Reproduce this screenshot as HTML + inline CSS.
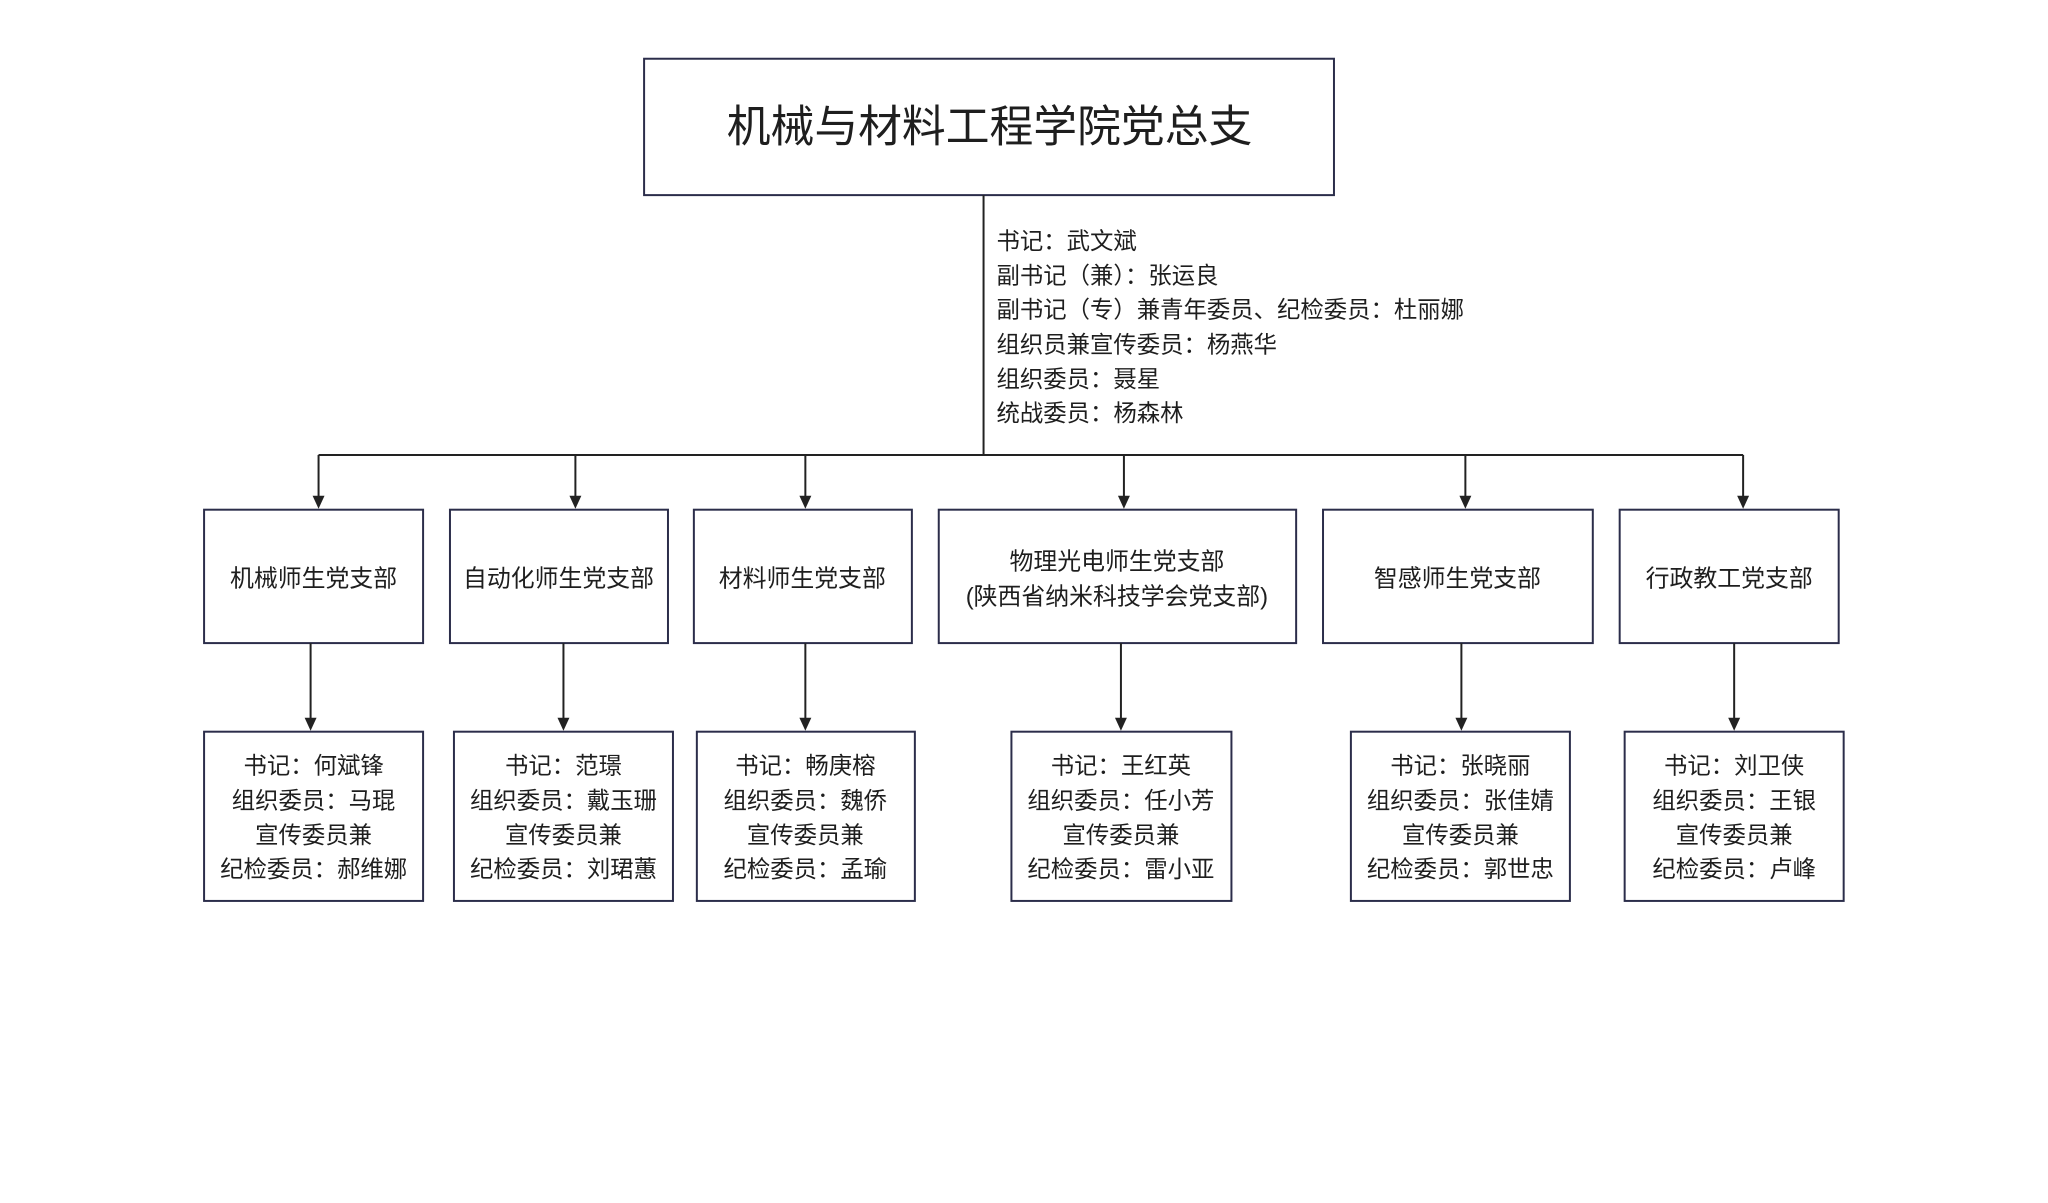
<!DOCTYPE html>
<html><head><meta charset="utf-8"><style>
html,body{margin:0;padding:0;background:#fff;}
svg{display:block;}
text{font-family:"Liberation Sans","Noto Sans CJK SC",sans-serif;fill:#1e1e1e;}
</style></head><body>
<svg width="2048" height="1203" viewBox="0 0 2048 1203" xmlns="http://www.w3.org/2000/svg">
<g transform="scale(0.9955)">
<g fill="none" stroke="#2b2d4a" stroke-width="2">
<rect x="647" y="59" width="693" height="137"/>
<rect x="205" y="512" width="220" height="134"/>
<rect x="452" y="512" width="219" height="134"/>
<rect x="697" y="512" width="219" height="134"/>
<rect x="943" y="512" width="359" height="134"/>
<rect x="1329" y="512" width="271" height="134"/>
<rect x="1627" y="512" width="220" height="134"/>
<rect x="205" y="735" width="220" height="170"/>
<rect x="456" y="735" width="220" height="170"/>
<rect x="700" y="735" width="219" height="170"/>
<rect x="1016" y="735" width="221" height="170"/>
<rect x="1357" y="735" width="220" height="170"/>
<rect x="1632" y="735" width="220" height="170"/>
</g>
<g stroke="#222" stroke-width="2" fill="none">
<line x1="988" y1="196" x2="988" y2="457"/>
<line x1="320" y1="457" x2="1751" y2="457"/>
<line x1="320" y1="457" x2="320" y2="500"/>
<line x1="578" y1="457" x2="578" y2="500"/>
<line x1="809" y1="457" x2="809" y2="500"/>
<line x1="1129" y1="457" x2="1129" y2="500"/>
<line x1="1472" y1="457" x2="1472" y2="500"/>
<line x1="1751" y1="457" x2="1751" y2="500"/>
<line x1="312" y1="646" x2="312" y2="723"/>
<line x1="566" y1="646" x2="566" y2="723"/>
<line x1="809" y1="646" x2="809" y2="723"/>
<line x1="1126" y1="646" x2="1126" y2="723"/>
<line x1="1468" y1="646" x2="1468" y2="723"/>
<line x1="1742" y1="646" x2="1742" y2="723"/>
</g>
<g fill="#222">
<path d="M314,498 L326,498 L320,511 Z"/>
<path d="M572,498 L584,498 L578,511 Z"/>
<path d="M803,498 L815,498 L809,511 Z"/>
<path d="M1123,498 L1135,498 L1129,511 Z"/>
<path d="M1466,498 L1478,498 L1472,511 Z"/>
<path d="M1745,498 L1757,498 L1751,511 Z"/>
<path d="M306,721 L318,721 L312,734 Z"/>
<path d="M560,721 L572,721 L566,734 Z"/>
<path d="M803,721 L815,721 L809,734 Z"/>
<path d="M1120,721 L1132,721 L1126,734 Z"/>
<path d="M1462,721 L1474,721 L1468,734 Z"/>
<path d="M1736,721 L1748,721 L1742,734 Z"/>
</g>
<text x="994" y="142" font-size="44" text-anchor="middle">机械与材料工程学院党总支</text>
<g font-size="23.5">
<text x="1001" y="250">书记：武文斌</text>
<text x="1001" y="285">副书记（兼）：张运良</text>
<text x="1001" y="319">副书记（专）兼青年委员、纪检委员：杜丽娜</text>
<text x="1001" y="354">组织员兼宣传委员：杨燕华</text>
<text x="1001" y="389">组织委员：聂星</text>
<text x="1001" y="423">统战委员：杨森林</text>
</g>
<g font-size="24" text-anchor="middle">
<text x="315" y="589">机械师生党支部</text>
<text x="561" y="589">自动化师生党支部</text>
<text x="806" y="589">材料师生党支部</text>
<text x="1122" y="572">物理光电师生党支部</text>
<text x="1122" y="607">(陕西省纳米科技学会党支部)</text>
<text x="1464" y="589">智感师生党支部</text>
<text x="1737" y="589">行政教工党支部</text>
</g>
<g font-size="23.5" text-anchor="middle">
<text x="315" y="777">书记：何斌锋</text><text x="315" y="812">组织委员：马琨</text><text x="315" y="847">宣传委员兼</text><text x="315" y="881">纪检委员：郝维娜</text>
<text x="566" y="777">书记：范璟</text><text x="566" y="812">组织委员：戴玉珊</text><text x="566" y="847">宣传委员兼</text><text x="566" y="881">纪检委员：刘珺蕙</text>
<text x="809" y="777">书记：畅庚榕</text><text x="809" y="812">组织委员：魏侨</text><text x="809" y="847">宣传委员兼</text><text x="809" y="881">纪检委员：孟瑜</text>
<text x="1126" y="777">书记：王红英</text><text x="1126" y="812">组织委员：任小芳</text><text x="1126" y="847">宣传委员兼</text><text x="1126" y="881">纪检委员：雷小亚</text>
<text x="1467" y="777">书记：张晓丽</text><text x="1467" y="812">组织委员：张佳婧</text><text x="1467" y="847">宣传委员兼</text><text x="1467" y="881">纪检委员：郭世忠</text>
<text x="1742" y="777">书记：刘卫侠</text><text x="1742" y="812">组织委员：王银</text><text x="1742" y="847">宣传委员兼</text><text x="1742" y="881">纪检委员：卢峰</text>
</g>
</g>
</svg>
</body></html>
